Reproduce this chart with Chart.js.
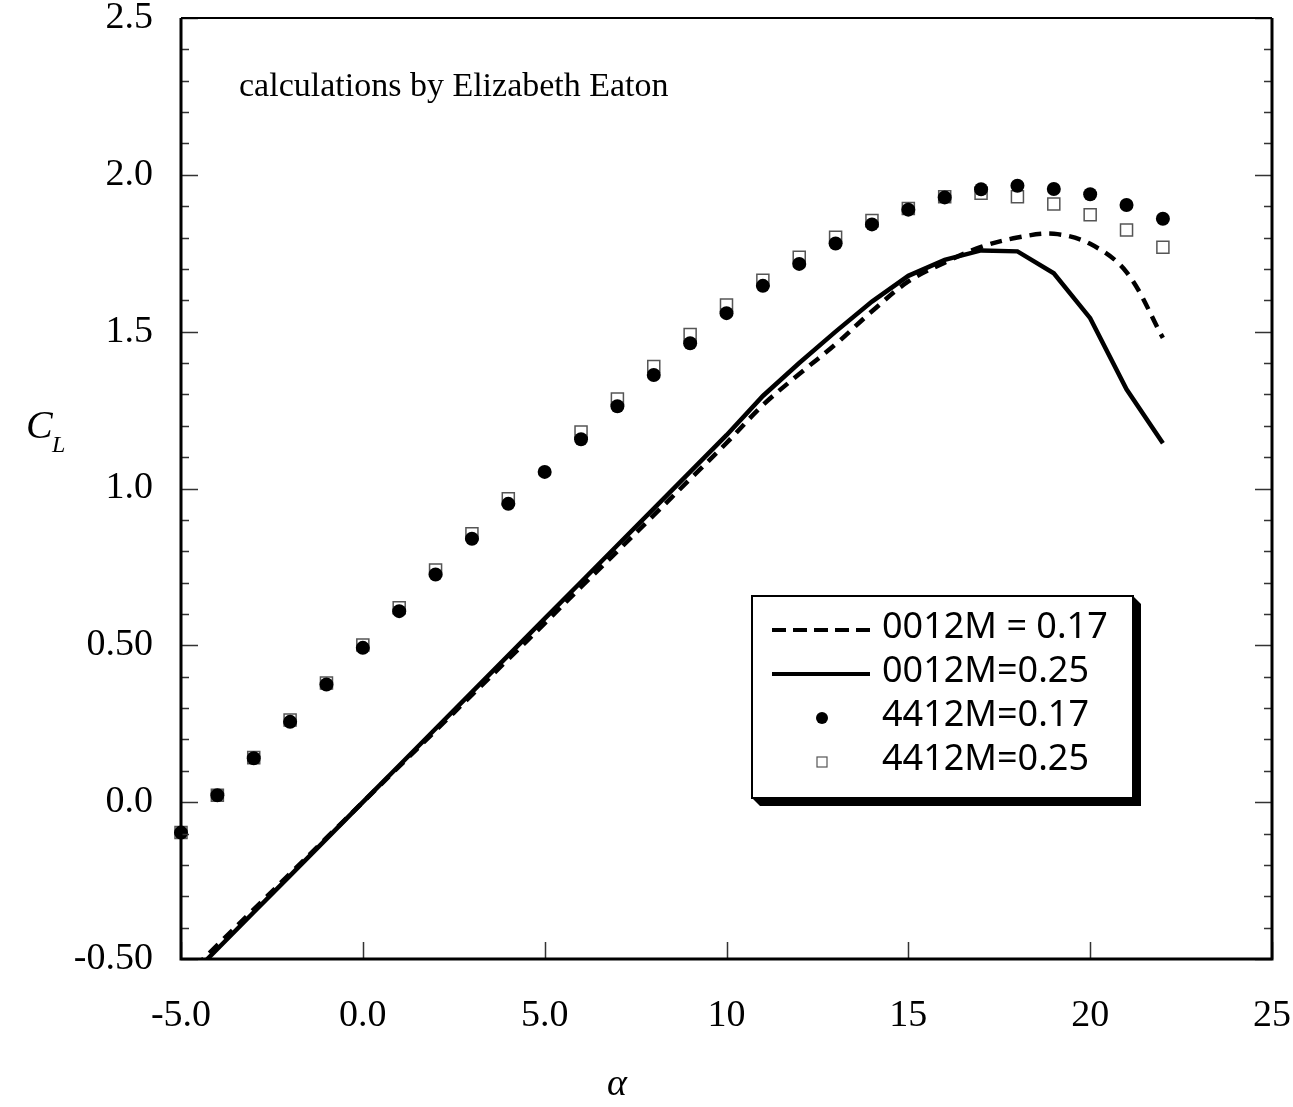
<!DOCTYPE html>
<html>
<head>
<meta charset="utf-8">
<script src="https://cdn.jsdelivr.net/npm/chart.js@4.4.0/dist/chart.umd.min.js"></script>
<style>
  html, body { margin: 0; padding: 0; background: #fff; }
</style>
</head>
<body>
<canvas id="chart" width="1293" height="1107"></canvas>
<script>
// angle of attack (deg)
const alpha = [-5, -4, -3, -2, -1, 0, 1, 2, 3, 4, 5, 6, 7, 8, 9, 10, 11, 12, 13, 14, 15, 16, 17, 18, 19, 20, 21, 22];

// NACA 0012, M = 0.17 (dashed)
const cl0012M017 = [-0.57, -0.456, -0.342, -0.228, -0.114, 0, 0.114, 0.228, 0.342, 0.456, 0.57, 0.686, 0.80, 0.915, 1.03, 1.145,
  1.266, 1.365, 1.46, 1.565, 1.66, 1.72, 1.77, 1.80, 1.812, 1.78, 1.69, 1.48];
// NACA 0012, M = 0.25 (solid)
const cl0012M025 = [-0.585, -0.468, -0.351, -0.234, -0.117, 0, 0.117, 0.234, 0.351, 0.468, 0.585, 0.702, 0.819, 0.936, 1.053, 1.17,
  1.295, 1.40, 1.50, 1.596, 1.678, 1.729, 1.759, 1.756, 1.686, 1.543, 1.316, 1.144];
// NACA 4412, M = 0.17 (filled circles)
const cl4412M017 = [-0.097, 0.022, 0.140, 0.256, 0.375, 0.492, 0.609, 0.726, 0.840, 0.951, 1.053, 1.157, 1.262, 1.362, 1.463, 1.559,
  1.646, 1.716, 1.781, 1.842, 1.889, 1.928, 1.954, 1.965, 1.955, 1.938, 1.904, 1.860];
// NACA 4412, M = 0.25 (open squares)
const cl4412M025 = [-0.097, 0.022, 0.142, 0.262, 0.380, 0.501, 0.620, 0.740, 0.856, 0.967, null, 1.180, 1.285, 1.389, 1.491, 1.585,
  1.664, 1.737, 1.801, 1.854, 1.893, 1.930, 1.941, 1.930, 1.907, 1.873, 1.824, 1.769];

const xTickLabels = ['-5.0', '0.0', '5.0', '10', '15', '20', '25'];
const yTickLabels = ['-0.50', '0.0', '0.50', '1.0', '1.5', '2.0', '2.5'];
const legendLabels = ['0012M = 0.17', '0012M=0.25', '4412M=0.17', '4412M=0.25'];
const note = 'calculations by Elizabeth Eaton';

const serif = '"Liberation Serif", "Times New Roman", serif';
const sans = '"Noto Sans", "DejaVu Sans", sans-serif';

function pts(ys) {
  return alpha.map((a, i) => ({ x: a, y: ys[i] }));
}

const decor = {
  id: 'decor',
  afterDatasetsDraw(chart) {
    const ctx = chart.ctx;
    const a = chart.chartArea;
    const xs = chart.scales.x, ys = chart.scales.y;
    ctx.save();

    // inward ticks
    ctx.strokeStyle = '#333';
    ctx.lineWidth = 1.5;
    ctx.beginPath();
    for (let k = -5; k <= 25; k++) {
      const py = Math.round(ys.getPixelForValue(k / 10)) + 0.5;
      const len = k % 5 === 0 ? 17 : 8;
      ctx.moveTo(a.left, py); ctx.lineTo(a.left + len, py);
      ctx.moveTo(a.right, py); ctx.lineTo(a.right - len, py);
    }
    xs.ticks.forEach(t => {
      const px = Math.round(xs.getPixelForValue(t.value)) + 0.5;
      ctx.moveTo(px, a.bottom); ctx.lineTo(px, a.bottom - 17);
    });
    ctx.stroke();

    // frame
    ctx.strokeStyle = '#000';
    ctx.lineWidth = 2;
    ctx.beginPath();
    ctx.moveTo(a.left, a.top); ctx.lineTo(a.right, a.top);
    ctx.stroke();
    ctx.lineWidth = 3;
    ctx.beginPath();
    ctx.moveTo(a.right, a.top); ctx.lineTo(a.right, a.bottom);
    ctx.lineTo(a.left, a.bottom); ctx.lineTo(a.left, a.top);
    ctx.stroke();

    // note
    ctx.fillStyle = '#000';
    ctx.font = '34px ' + serif;
    ctx.textBaseline = 'alphabetic';
    ctx.textAlign = 'left';
    ctx.fillText(note, 239, 96);

    // axis titles
    ctx.font = 'italic 40px ' + serif;
    ctx.fillText('C', 26, 438);
    ctx.font = 'italic 24px ' + serif;
    ctx.fillText('L', 52, 452);
    ctx.font = 'italic 38px ' + serif;
    ctx.textAlign = 'center';
    ctx.fillText('\u03B1', 617, 1095);

    // legend box with shadow
    const L = 752, T = 596, R = 1133, B = 798, s = 8;
    ctx.fillStyle = '#000';
    ctx.beginPath();
    ctx.moveTo(L, B); ctx.lineTo(R, B); ctx.lineTo(R, T);
    ctx.lineTo(R + s, T + s); ctx.lineTo(R + s, B + s); ctx.lineTo(L + s, B + s);
    ctx.closePath();
    ctx.fill();
    ctx.fillStyle = '#fff';
    ctx.fillRect(L, T, R - L, B - T);
    ctx.lineWidth = 2;
    ctx.strokeStyle = '#000';
    ctx.strokeRect(L, T, R - L, B - T);

    const rows = [630, 674, 718, 762];
    ctx.lineWidth = 4;
    ctx.setLineDash([14, 7]);
    ctx.beginPath(); ctx.moveTo(772, rows[0]); ctx.lineTo(870, rows[0]); ctx.stroke();
    ctx.setLineDash([]);
    ctx.beginPath(); ctx.moveTo(772, rows[1]); ctx.lineTo(870, rows[1]); ctx.stroke();
    ctx.fillStyle = '#000';
    ctx.beginPath(); ctx.arc(822, rows[2], 6, 0, Math.PI * 2); ctx.fill();
    ctx.lineWidth = 1.2;
    ctx.strokeStyle = '#555';
    ctx.strokeRect(817, rows[3] - 5, 10, 10);

    ctx.fillStyle = '#000';
    ctx.font = '36px ' + sans;
    ctx.textAlign = 'left';
    ctx.textBaseline = 'middle';
    legendLabels.forEach((t, i) => ctx.fillText(t, 882, rows[i] - 2));
    ctx.restore();
  }
};

function noPadX(s) {
  s.height = 148;
  s.paddingLeft = 0; s.paddingRight = 0; s.paddingTop = 0; s.paddingBottom = 0;
}
function noPadY(s) {
  s.width = 181;
  s.paddingLeft = 0; s.paddingRight = 0; s.paddingTop = 0; s.paddingBottom = 0;
}

new Chart(document.getElementById('chart'), {
  type: 'scatter',
  data: {
    datasets: [
      {
        label: legendLabels[2],
        data: pts(cl4412M017),
        pointStyle: 'circle',
        pointRadius: 7,
        backgroundColor: '#000',
        borderColor: '#000',
        borderWidth: 0,
        clip: false
      },
      {
        label: legendLabels[3],
        data: pts(cl4412M025),
        pointStyle: 'rect',
        pointRadius: 8.5,
        backgroundColor: '#fff',
        borderColor: '#555',
        borderWidth: 1.5,
        clip: false
      },
      {
        label: legendLabels[1],
        data: pts(cl0012M025),
        showLine: true,
        pointRadius: 0,
        borderColor: '#000',
        borderWidth: 4.5,
        tension: 0
      },
      {
        label: legendLabels[0],
        data: pts(cl0012M017),
        showLine: true,
        pointRadius: 0,
        borderColor: '#000',
        borderWidth: 4.5,
        borderDash: [12, 8],
        tension: 0.35
      }
    ]
  },
  options: {
    responsive: false,
    animation: false,
    devicePixelRatio: 1,
    layout: { autoPadding: false, padding: { left: 0, top: 18, right: 21, bottom: 0 } },
    plugins: { legend: { display: false }, tooltip: { enabled: false } },
    scales: {
      x: {
        type: 'linear',
        min: -5, max: 25,
        afterFit: noPadX,
        grid: { display: false, drawTicks: false },
        border: { display: false },
        ticks: {
          stepSize: 5,
          padding: 38,
          color: '#000',
          font: { family: serif, size: 38, lineHeight: 1 },
          maxRotation: 0,
          callback: (v, i) => xTickLabels[i]
        }
      },
      y: {
        type: 'linear',
        min: -0.5, max: 2.5,
        afterFit: noPadY,
        grid: { display: false, drawTicks: false },
        border: { display: false },
        ticks: {
          stepSize: 0.5,
          padding: 28,
          color: '#000',
          font: { family: serif, size: 38, lineHeight: 1 },
          callback: (v, i) => yTickLabels[i]
        }
      }
    }
  },
  plugins: [decor]
});
</script>
</body>
</html>
